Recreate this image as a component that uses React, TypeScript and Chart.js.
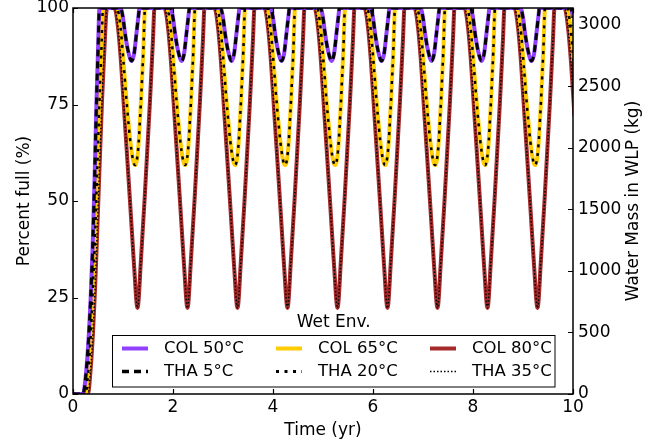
import { useEffect, useRef } from "react";
import { Chart, registerables } from "chart.js";

Chart.register(...registerables);

// ---- data ----
const xTicks = [0, 2, 4, 6, 8, 10];
const leftTicks = [0, 25, 50, 75, 100];
const rightTicks = [0, 500, 1000, 1500, 2000, 2500, 3000];
const rightMaxKg = 3138; // water mass at 100 % full

const seriesLabels = ["COL 50°C", "THA 5°C", "COL 65°C", "THA 20°C", "COL 80°C", "THA 35°C"];

// [time (yr), percent full]
const col50: [number, number][] = [
  [0, 0], [0.2, 0], [0.25, 4], [0.3, 12], [0.35, 24], [0.39, 37], [0.43, 55], [0.47, 76], [0.5, 89], [0.53, 100],
  [0.95, 100], [1, 97.5], [1.04, 93.5], [1.1, 89], [1.17, 86.3], [1.22, 88], [1.27, 93.5], [1.31, 98], [1.33, 100],
  [1.95, 100], [2, 97.5], [2.04, 93.5], [2.1, 89], [2.17, 86.3], [2.22, 88], [2.27, 93.5], [2.31, 98], [2.33, 100],
  [2.95, 100], [3, 97.5], [3.04, 93.5], [3.1, 89], [3.17, 86.3], [3.22, 88], [3.27, 93.5], [3.31, 98], [3.33, 100],
  [3.95, 100], [4, 97.5], [4.04, 93.5], [4.1, 89], [4.17, 86.3], [4.22, 88], [4.27, 93.5], [4.31, 98], [4.33, 100],
  [4.95, 100], [5, 97.5], [5.04, 93.5], [5.1, 89], [5.17, 86.3], [5.22, 88], [5.27, 93.5], [5.31, 98], [5.33, 100],
  [5.95, 100], [6, 97.5], [6.04, 93.5], [6.1, 89], [6.17, 86.3], [6.22, 88], [6.27, 93.5], [6.31, 98], [6.33, 100],
  [6.95, 100], [7, 97.5], [7.04, 93.5], [7.1, 89], [7.17, 86.3], [7.22, 88], [7.27, 93.5], [7.31, 98], [7.33, 100],
  [7.95, 100], [8, 97.5], [8.04, 93.5], [8.1, 89], [8.17, 86.3], [8.22, 88], [8.27, 93.5], [8.31, 98], [8.33, 100],
  [8.95, 100], [9, 97.5], [9.04, 93.5], [9.1, 89], [9.17, 86.3], [9.22, 88], [9.27, 93.5], [9.31, 98], [9.33, 100],
  [9.95, 100], [10, 97.5], [10.04, 93.5],
];

const col65: [number, number][] = [
  [0, 0], [0.25, 0], [0.3, 5], [0.35, 14], [0.4, 28], [0.43, 37], [0.48, 56], [0.53, 76], [0.57, 90], [0.6, 100],
  [0.88, 100], [0.95, 95], [1.01, 86], [1.07, 76], [1.17, 63], [1.24, 59.3], [1.3, 63], [1.36, 76], [1.41, 90], [1.44, 100],
  [1.88, 100], [1.95, 95], [2.01, 86], [2.07, 76], [2.17, 63], [2.24, 59.3], [2.3, 63], [2.36, 76], [2.41, 90], [2.44, 100],
  [2.88, 100], [2.95, 95], [3.01, 86], [3.07, 76], [3.17, 63], [3.24, 59.3], [3.3, 63], [3.36, 76], [3.41, 90], [3.44, 100],
  [3.88, 100], [3.95, 95], [4.01, 86], [4.07, 76], [4.17, 63], [4.24, 59.3], [4.3, 63], [4.36, 76], [4.41, 90], [4.44, 100],
  [4.88, 100], [4.95, 95], [5.01, 86], [5.07, 76], [5.17, 63], [5.24, 59.3], [5.3, 63], [5.36, 76], [5.41, 90], [5.44, 100],
  [5.88, 100], [5.95, 95], [6.01, 86], [6.07, 76], [6.17, 63], [6.24, 59.3], [6.3, 63], [6.36, 76], [6.41, 90], [6.44, 100],
  [6.88, 100], [6.95, 95], [7.01, 86], [7.07, 76], [7.17, 63], [7.24, 59.3], [7.3, 63], [7.36, 76], [7.41, 90], [7.44, 100],
  [7.88, 100], [7.95, 95], [8.01, 86], [8.07, 76], [8.17, 63], [8.24, 59.3], [8.3, 63], [8.36, 76], [8.41, 90], [8.44, 100],
  [8.88, 100], [8.95, 95], [9.01, 86], [9.07, 76], [9.17, 63], [9.24, 59.3], [9.3, 63], [9.36, 76], [9.41, 90], [9.44, 100],
  [9.88, 100], [9.95, 95], [10.01, 86],
];

const col80: [number, number][] = [
  [0, 0], [0.3, 0], [0.35, 6], [0.4, 16], [0.44, 27], [0.47, 37], [0.52, 55], [0.58, 76], [0.63, 90], [0.68, 100],
  [0.83, 100], [0.9, 95], [0.96, 86], [1.03, 72], [1.14, 50], [1.22, 33.5], [1.29, 22.3], [1.36, 35], [1.43, 50], [1.54, 76], [1.6, 92], [1.63, 100],
  [1.83, 100], [1.9, 95], [1.96, 86], [2.03, 72], [2.14, 50], [2.22, 33.5], [2.29, 22.3], [2.36, 35], [2.43, 50], [2.54, 76], [2.6, 92], [2.63, 100],
  [2.83, 100], [2.9, 95], [2.96, 86], [3.03, 72], [3.14, 50], [3.22, 33.5], [3.29, 22.3], [3.36, 35], [3.43, 50], [3.54, 76], [3.6, 92], [3.63, 100],
  [3.83, 100], [3.9, 95], [3.96, 86], [4.03, 72], [4.14, 50], [4.22, 33.5], [4.29, 22.3], [4.36, 35], [4.43, 50], [4.54, 76], [4.6, 92], [4.63, 100],
  [4.83, 100], [4.9, 95], [4.96, 86], [5.03, 72], [5.14, 50], [5.22, 33.5], [5.29, 22.3], [5.36, 35], [5.43, 50], [5.54, 76], [5.6, 92], [5.63, 100],
  [5.83, 100], [5.9, 95], [5.96, 86], [6.03, 72], [6.14, 50], [6.22, 33.5], [6.29, 22.3], [6.36, 35], [6.43, 50], [6.54, 76], [6.6, 92], [6.63, 100],
  [6.83, 100], [6.9, 95], [6.96, 86], [7.03, 72], [7.14, 50], [7.22, 33.5], [7.29, 22.3], [7.36, 35], [7.43, 50], [7.54, 76], [7.6, 92], [7.63, 100],
  [7.83, 100], [7.9, 95], [7.96, 86], [8.03, 72], [8.14, 50], [8.22, 33.5], [8.29, 22.3], [8.36, 35], [8.43, 50], [8.54, 76], [8.6, 92], [8.63, 100],
  [8.83, 100], [8.9, 95], [8.96, 86], [9.03, 72], [9.14, 50], [9.22, 33.5], [9.29, 22.3], [9.36, 35], [9.43, 50], [9.54, 76], [9.6, 92], [9.63, 100],
  [9.83, 100], [9.9, 95], [9.96, 86], [10.03, 72],
];

// The THA curves lie exactly on top of the COL curves in the reference.
const tha5 = col50;
const tha20 = col65;
const tha35 = col80;

const FONT = "'DejaVu Sans', sans-serif";
const PURPLE = "#9140ff";
const YELLOW = "#ffcc00";
const RED = "#a52a2a";

const toXY = (arr: [number, number][]) => arr.map(([x, y]) => ({ x, y }));

const overlayPlugin = {
  id: "overlay",
  afterDatasetsDraw(chart: any) {
    const { ctx, chartArea } = chart;
    const { left, right, top, bottom } = chartArea;
    const xs = chart.scales.x;
    const yl = chart.scales.y;
    const yr = chart.scales.y2;
    ctx.save();
    // inward ticks
    ctx.strokeStyle = "#000";
    ctx.lineWidth = 1.2;
    ctx.setLineDash([]);
    ctx.beginPath();
    xTicks.forEach((v) => {
      const p = Math.round(xs.getPixelForValue(v)) + 0.5;
      ctx.moveTo(p, bottom);
      ctx.lineTo(p, bottom - 5);
      ctx.moveTo(p, top);
      ctx.lineTo(p, top + 5);
    });
    leftTicks.forEach((v) => {
      const p = Math.round(yl.getPixelForValue(v)) + 0.5;
      ctx.moveTo(left, p);
      ctx.lineTo(left + 5, p);
    });
    rightTicks.forEach((v) => {
      const p = Math.round(yr.getPixelForValue(v)) + 0.5;
      ctx.moveTo(right, p);
      ctx.lineTo(right - 5, p);
    });
    ctx.stroke();
    // frame
    ctx.lineWidth = 1.5;
    ctx.strokeRect(left, top, right - left, bottom - top);

    // right axis title (reads bottom to top)
    ctx.save();
    ctx.translate(634, (top + bottom) / 2);
    ctx.rotate(-Math.PI / 2);
    ctx.fillStyle = "#000";
    ctx.font = `17px ${FONT}`;
    ctx.textAlign = "center";
    ctx.textBaseline = "middle";
    ctx.fillText("Water Mass in WLP (kg)", 0, 0);
    ctx.restore();

    // legend
    const bx = 112.5, by = 335.5, bw = 442.5, bh = 51.5;
    ctx.fillStyle = "#fff";
    ctx.fillRect(bx, by, bw, bh);
    ctx.strokeStyle = "#000";
    ctx.lineWidth = 1;
    ctx.strokeRect(bx, by, bw, bh);
    ctx.fillStyle = "#000";
    ctx.font = `17px ${FONT}`;
    ctx.textAlign = "center";
    ctx.textBaseline = "middle";
    ctx.fillText("Wet Env.", bx + bw / 2, 323);
    const colX = [122, 276, 430];
    const rowY = [348.5, 371.5];
    chart.data.datasets.forEach((ds: any, i: number) => {
      const cx = colX[Math.floor(i / 2)];
      const cy = rowY[i % 2];
      ctx.save();
      ctx.strokeStyle = ds.borderColor;
      ctx.lineWidth = ds.legendWidth;
      ctx.setLineDash(ds.borderDash || []);
      ctx.lineCap = "butt";
      ctx.beginPath();
      ctx.moveTo(cx, cy);
      ctx.lineTo(cx + 26, cy);
      ctx.stroke();
      ctx.restore();
      ctx.fillStyle = "#000";
      ctx.textAlign = "left";
      ctx.textBaseline = "middle";
      ctx.font = `16.5px ${FONT}`;
      ctx.fillText(ds.label, cx + 42, cy);
    });
    ctx.restore();
  },
};

export default function App() {
  const ref = useRef<HTMLCanvasElement>(null);
  useEffect(() => {
    if (!ref.current) return;
    const tickFont = { family: FONT, size: 17 };
    const plain = (v: any) => String(v);
    const chart = new Chart(ref.current, {
      type: "line",
      data: {
        datasets: [
          { label: seriesLabels[0], data: toXY(col50), borderColor: PURPLE, borderWidth: 4, order: 2, legendWidth: 4 } as any,
          { label: seriesLabels[1], data: toXY(tha5), borderColor: "#000", borderWidth: 3, borderDash: [7, 5], order: 1, legendWidth: 3.5 } as any,
          { label: seriesLabels[2], data: toXY(col65), borderColor: YELLOW, borderWidth: 4, order: 2, legendWidth: 4 } as any,
          { label: seriesLabels[3], data: toXY(tha20), borderColor: "#000", borderWidth: 2.5, borderDash: [3, 5.5], order: 1, legendWidth: 3 } as any,
          { label: seriesLabels[4], data: toXY(col80), borderColor: RED, borderWidth: 4, order: 2, legendWidth: 4 } as any,
          { label: seriesLabels[5], data: toXY(tha35), borderColor: "#000", borderWidth: 1.5, borderDash: [1.5, 2], order: 1, legendWidth: 1.5 } as any,
        ],
      },
      options: {
        animation: false,
        responsive: false,
        maintainAspectRatio: false,
        events: [],
        layout: { padding: { top: 8, left: 0, right: 0, bottom: 0 } },
        elements: {
          point: { radius: 0 },
          line: { cubicInterpolationMode: "monotone", fill: false },
        },
        datasets: { line: { clip: 0 } as any },
        plugins: { legend: { display: false }, tooltip: { enabled: false } },
        scales: {
          x: {
            type: "linear",
            min: 0,
            max: 10,
            afterBuildTicks: (s: any) => { s.ticks = xTicks.map((v) => ({ value: v })); },
            afterFit: (s: any) => { s.height = 51; s.paddingLeft = 0; s.paddingRight = 0; },
            grid: { display: false, drawTicks: false },
            border: { display: false },
            ticks: { font: tickFont, color: "#000", padding: 3, maxRotation: 0, callback: plain },
            title: { display: true, text: "Time (yr)", font: tickFont, color: "#000", padding: { top: 0, bottom: 4 } },
          },
          y: {
            type: "linear",
            position: "left",
            min: 0,
            max: 100,
            afterBuildTicks: (s: any) => { s.ticks = leftTicks.map((v) => ({ value: v })); },
            afterFit: (s: any) => { s.width = 73; s.paddingTop = 0; s.paddingBottom = 0; },
            grid: { display: false, drawTicks: false },
            border: { display: false },
            ticks: { font: tickFont, color: "#000", padding: 4, callback: plain },
            title: { display: true, text: "Percent full (%)", font: tickFont, color: "#000", padding: { top: 14, bottom: 0 } },
          },
          y2: {
            type: "linear",
            position: "right",
            min: 0,
            max: rightMaxKg,
            afterBuildTicks: (s: any) => { s.ticks = rightTicks.map((v) => ({ value: v })); },
            afterFit: (s: any) => { s.width = 94; s.paddingTop = 0; s.paddingBottom = 0; },
            grid: { display: false, drawTicks: false },
            border: { display: false },
            ticks: { font: tickFont, color: "#000", padding: 5, callback: plain },
          },
        },
      },
      plugins: [overlayPlugin],
    });
    return () => chart.destroy();
  }, []);
  return (
    <div style={{ position: "fixed", left: 0, top: 0, width: 667, height: 445, background: "#fff" }}>
      <canvas ref={ref} width={667} height={445} style={{ width: 667, height: 445, display: "block" }} />
    </div>
  );
}
